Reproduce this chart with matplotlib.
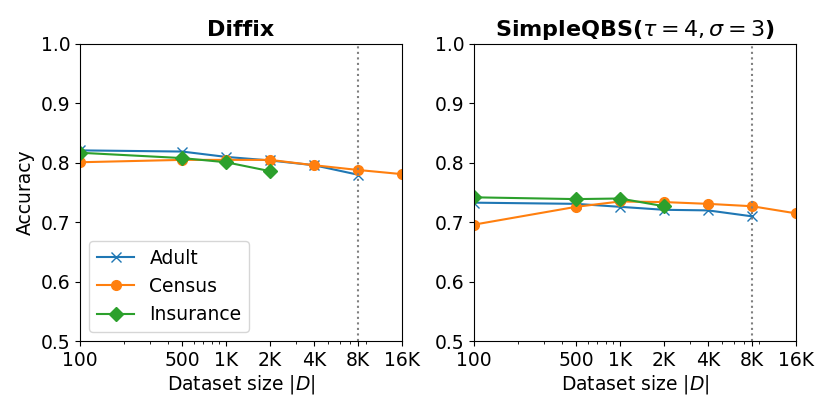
import numpy as np
import matplotlib.pyplot as plt

sizes = [100, 500, 1000, 2000, 4000, 8000, 16000]
tick_labels = ['100', '500', '1K', '2K', '4K', '8K', '16K']

# Diffix
diffix_adult = [0.821, 0.819, 0.810, 0.804, 0.796, 0.780]
diffix_census = [0.801, 0.805, 0.805, 0.805, 0.796, 0.788, 0.781]
diffix_insurance = [0.817, 0.808, 0.801, 0.786]

# SimpleQBS
qbs_adult = [0.733, 0.731, 0.726, 0.721, 0.720, 0.710]
qbs_census = [0.696, 0.726, 0.735, 0.734, 0.731, 0.727, 0.715]
qbs_insurance = [0.742, 0.739, 0.740, 0.727]

plt.rcParams['font.size'] = 13.5

fig = plt.figure(figsize=(8.3, 4.15), dpi=100)
ax1 = fig.add_axes([0.0964, 0.178, 0.388, 0.716])
ax2 = fig.add_axes([0.571, 0.178, 0.388, 0.716])

panels = [
    (ax1, 'Diffix', diffix_adult, diffix_census, diffix_insurance),
    (ax2, r'SimpleQBS($\tau=4, \sigma=3$)', qbs_adult, qbs_census, qbs_insurance),
]

for ax, title, adult, census, insurance in panels:
    ax.plot(sizes[:len(adult)], adult, marker='x', markersize=7, label='Adult', color='tab:blue')
    ax.plot(sizes[:len(census)], census, marker='o', markersize=7, label='Census', color='tab:orange')
    ax.plot(sizes[:len(insurance)], insurance, marker='D', markersize=7, label='Insurance', color='tab:green')
    ax.axvline(8000, color='gray', linestyle=':', linewidth=1.5)
    ax.set_xscale('log')
    ax.set_xlim(100, 16000)
    ax.set_ylim(0.5, 1.0)
    ax.set_xticks(sizes)
    ax.set_xticklabels(tick_labels)
    ax.set_xlabel(r'Dataset size $|D|$', labelpad=2)
    ax.set_title(title, fontweight='bold', fontsize=16)

ax1.set_ylabel('Accuracy')
ax1.legend(loc='lower left')

fig.savefig('out.png', dpi=100)
